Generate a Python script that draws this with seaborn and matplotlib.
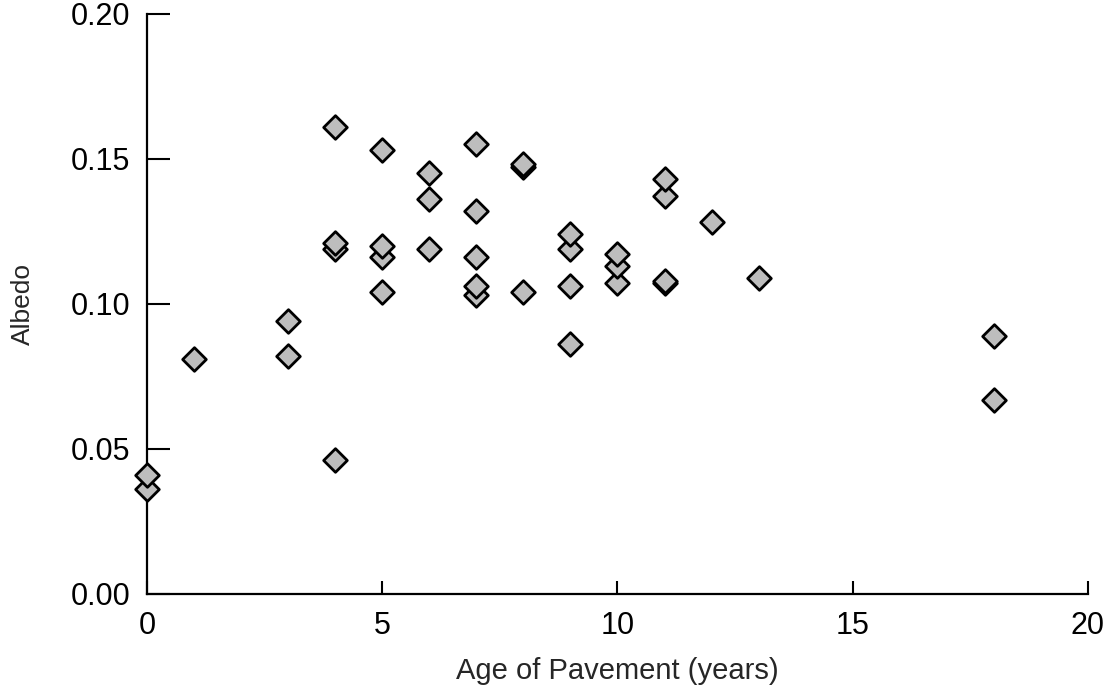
import matplotlib
matplotlib.use("Agg")
import matplotlib.pyplot as plt
import seaborn as sns
import pandas as pd

# Data
age = [0, 0, 1, 3, 3, 4, 4, 4, 4, 5, 5, 5, 5, 6, 6, 6,
       7, 7, 7, 7, 7, 8, 8, 8, 9, 9, 9, 9, 10, 10, 10,
       11, 11, 11, 11, 12, 13, 18, 18]
albedo = [0.036, 0.041, 0.081, 0.082, 0.094, 0.046, 0.119, 0.121, 0.161,
          0.104, 0.116, 0.120, 0.153, 0.119, 0.136, 0.145,
          0.103, 0.106, 0.116, 0.132, 0.155, 0.104, 0.147, 0.148,
          0.086, 0.106, 0.119, 0.124, 0.107, 0.113, 0.117,
          0.107, 0.108, 0.137, 0.143, 0.128, 0.109, 0.067, 0.089]
x_ticks = [0, 5, 10, 15, 20]
y_ticks = [0.00, 0.05, 0.10, 0.15, 0.20]
x_label = "Age of Pavement (years)"
y_label = "Albedo"

df = pd.DataFrame({"age": age, "albedo": albedo})

sns.set_style("ticks")
plt.rcParams["font.family"] = ["Liberation Sans", "DejaVu Sans"]

fig = plt.figure(figsize=(11.12, 6.96), dpi=100)
ax = fig.add_axes([0.1322, 0.1466, 0.8462, 0.834])

sns.scatterplot(data=df, x="age", y="albedo", ax=ax, marker="D", s=145,
                color="#bdbdbd", edgecolor="black", linewidth=2.0,
                clip_on=False, zorder=3)

ax.set_xlim(0, 20)
ax.set_ylim(0, 0.20)
ax.set_xticks(x_ticks)
ax.set_xticklabels([str(t) for t in x_ticks])
ax.set_yticks(y_ticks)
ax.set_yticklabels([f"{t:.2f}" for t in y_ticks])

sns.despine(ax=ax, top=True, right=True)
for s in ["left", "bottom"]:
    ax.spines[s].set_linewidth(1.6)
    ax.spines[s].set_color("black")

ax.tick_params(axis="y", direction="in", length=16.5, width=1.5, pad=12,
               labelsize=22, colors="black")
ax.tick_params(axis="x", direction="in", length=9.5, width=1.5, pad=12,
               labelsize=22, colors="black")

ax.set_xlabel(x_label, fontsize=21, labelpad=12)
ax.set_ylabel(y_label, fontsize=19, labelpad=26)

fig.savefig("out.png", dpi=100)
